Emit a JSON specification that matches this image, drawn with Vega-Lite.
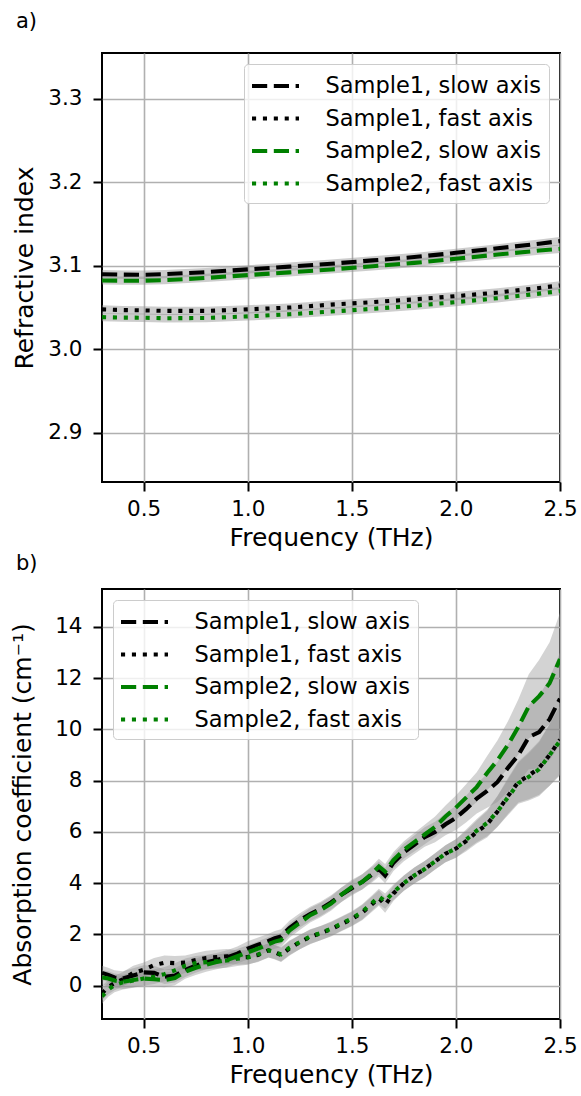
{
"$schema": "https://vega.github.io/schema/vega-lite/v6.json",
"background": "white",
"padding": {"left": 9, "top": 10, "right": 5, "bottom": 5},
"datasets": {
"top": [
{"s":"Sample1, slow axis","f":0.3,"y":3.0900,"lo":3.0850,"hi":3.0950},
{"s":"Sample1, slow axis","f":0.4,"y":3.0895,"lo":3.0845,"hi":3.0945},
{"s":"Sample1, slow axis","f":0.5,"y":3.0893,"lo":3.0843,"hi":3.0943},
{"s":"Sample1, slow axis","f":0.6,"y":3.0900,"lo":3.0850,"hi":3.0950},
{"s":"Sample1, slow axis","f":0.8,"y":3.0925,"lo":3.0875,"hi":3.0975},
{"s":"Sample1, slow axis","f":1.0,"y":3.0957,"lo":3.0907,"hi":3.1007},
{"s":"Sample1, slow axis","f":1.2,"y":3.0990,"lo":3.0940,"hi":3.1040},
{"s":"Sample1, slow axis","f":1.4,"y":3.1025,"lo":3.0975,"hi":3.1075},
{"s":"Sample1, slow axis","f":1.6,"y":3.1065,"lo":3.1015,"hi":3.1115},
{"s":"Sample1, slow axis","f":1.8,"y":3.1105,"lo":3.1055,"hi":3.1155},
{"s":"Sample1, slow axis","f":2.0,"y":3.1156,"lo":3.1106,"hi":3.1206},
{"s":"Sample1, slow axis","f":2.2,"y":3.1210,"lo":3.1160,"hi":3.1260},
{"s":"Sample1, slow axis","f":2.4,"y":3.1265,"lo":3.1215,"hi":3.1315},
{"s":"Sample1, slow axis","f":2.5,"y":3.1296,"lo":3.1246,"hi":3.1346},
{"s":"Sample1, fast axis","f":0.3,"y":3.0478,"lo":3.0428,"hi":3.0528},
{"s":"Sample1, fast axis","f":0.4,"y":3.0470,"lo":3.0420,"hi":3.0520},
{"s":"Sample1, fast axis","f":0.5,"y":3.0466,"lo":3.0416,"hi":3.0516},
{"s":"Sample1, fast axis","f":0.6,"y":3.0460,"lo":3.0410,"hi":3.0510},
{"s":"Sample1, fast axis","f":0.8,"y":3.0460,"lo":3.0410,"hi":3.0510},
{"s":"Sample1, fast axis","f":1.0,"y":3.0478,"lo":3.0428,"hi":3.0528},
{"s":"Sample1, fast axis","f":1.2,"y":3.0500,"lo":3.0450,"hi":3.0550},
{"s":"Sample1, fast axis","f":1.4,"y":3.0535,"lo":3.0485,"hi":3.0585},
{"s":"Sample1, fast axis","f":1.6,"y":3.0565,"lo":3.0515,"hi":3.0615},
{"s":"Sample1, fast axis","f":1.8,"y":3.0598,"lo":3.0548,"hi":3.0648},
{"s":"Sample1, fast axis","f":2.0,"y":3.0637,"lo":3.0587,"hi":3.0687},
{"s":"Sample1, fast axis","f":2.2,"y":3.0680,"lo":3.0630,"hi":3.0730},
{"s":"Sample1, fast axis","f":2.4,"y":3.0735,"lo":3.0685,"hi":3.0785},
{"s":"Sample1, fast axis","f":2.5,"y":3.0765,"lo":3.0715,"hi":3.0815},
{"s":"Sample2, slow axis","f":0.3,"y":3.0825,"lo":3.0775,"hi":3.0875},
{"s":"Sample2, slow axis","f":0.4,"y":3.0822,"lo":3.0772,"hi":3.0872},
{"s":"Sample2, slow axis","f":0.5,"y":3.0822,"lo":3.0772,"hi":3.0872},
{"s":"Sample2, slow axis","f":0.6,"y":3.0828,"lo":3.0778,"hi":3.0878},
{"s":"Sample2, slow axis","f":0.8,"y":3.0855,"lo":3.0805,"hi":3.0905},
{"s":"Sample2, slow axis","f":1.0,"y":3.0889,"lo":3.0839,"hi":3.0939},
{"s":"Sample2, slow axis","f":1.2,"y":3.0922,"lo":3.0872,"hi":3.0972},
{"s":"Sample2, slow axis","f":1.4,"y":3.0957,"lo":3.0907,"hi":3.1007},
{"s":"Sample2, slow axis","f":1.6,"y":3.0995,"lo":3.0945,"hi":3.1045},
{"s":"Sample2, slow axis","f":1.8,"y":3.1035,"lo":3.0985,"hi":3.1085},
{"s":"Sample2, slow axis","f":2.0,"y":3.1084,"lo":3.1034,"hi":3.1134},
{"s":"Sample2, slow axis","f":2.2,"y":3.1135,"lo":3.1085,"hi":3.1185},
{"s":"Sample2, slow axis","f":2.4,"y":3.1183,"lo":3.1133,"hi":3.1233},
{"s":"Sample2, slow axis","f":2.5,"y":3.1204,"lo":3.1154,"hi":3.1254},
{"s":"Sample2, fast axis","f":0.3,"y":3.0386,"lo":3.0336,"hi":3.0436},
{"s":"Sample2, fast axis","f":0.4,"y":3.0380,"lo":3.0330,"hi":3.0430},
{"s":"Sample2, fast axis","f":0.5,"y":3.0378,"lo":3.0328,"hi":3.0428},
{"s":"Sample2, fast axis","f":0.6,"y":3.0372,"lo":3.0322,"hi":3.0422},
{"s":"Sample2, fast axis","f":0.8,"y":3.0375,"lo":3.0325,"hi":3.0425},
{"s":"Sample2, fast axis","f":1.0,"y":3.0394,"lo":3.0344,"hi":3.0444},
{"s":"Sample2, fast axis","f":1.2,"y":3.0420,"lo":3.0370,"hi":3.0470},
{"s":"Sample2, fast axis","f":1.4,"y":3.0452,"lo":3.0402,"hi":3.0502},
{"s":"Sample2, fast axis","f":1.6,"y":3.0485,"lo":3.0435,"hi":3.0535},
{"s":"Sample2, fast axis","f":1.8,"y":3.0522,"lo":3.0472,"hi":3.0572},
{"s":"Sample2, fast axis","f":2.0,"y":3.0565,"lo":3.0515,"hi":3.0615},
{"s":"Sample2, fast axis","f":2.2,"y":3.0612,"lo":3.0562,"hi":3.0662},
{"s":"Sample2, fast axis","f":2.4,"y":3.0667,"lo":3.0617,"hi":3.0717},
{"s":"Sample2, fast axis","f":2.5,"y":3.0697,"lo":3.0647,"hi":3.0747}
],
"bottom": [
{"s":"Sample1, slow axis","f":0.30,"y":0.50,"lo":0.22,"hi":0.78},
{"s":"Sample1, slow axis","f":0.33,"y":0.42,"lo":0.14,"hi":0.70},
{"s":"Sample1, slow axis","f":0.36,"y":0.32,"lo":0.04,"hi":0.60},
{"s":"Sample1, slow axis","f":0.40,"y":0.28,"lo":0.00,"hi":0.56},
{"s":"Sample1, slow axis","f":0.45,"y":0.40,"lo":0.12,"hi":0.68},
{"s":"Sample1, slow axis","f":0.50,"y":0.52,"lo":0.24,"hi":0.80},
{"s":"Sample1, slow axis","f":0.55,"y":0.50,"lo":0.22,"hi":0.78},
{"s":"Sample1, slow axis","f":0.60,"y":0.35,"lo":0.07,"hi":0.63},
{"s":"Sample1, slow axis","f":0.65,"y":0.40,"lo":0.12,"hi":0.68},
{"s":"Sample1, slow axis","f":0.70,"y":0.62,"lo":0.34,"hi":0.90},
{"s":"Sample1, slow axis","f":0.75,"y":0.78,"lo":0.50,"hi":1.06},
{"s":"Sample1, slow axis","f":0.80,"y":0.92,"lo":0.64,"hi":1.20},
{"s":"Sample1, slow axis","f":0.85,"y":1.00,"lo":0.72,"hi":1.28},
{"s":"Sample1, slow axis","f":0.90,"y":1.10,"lo":0.82,"hi":1.38},
{"s":"Sample1, slow axis","f":0.95,"y":1.25,"lo":0.97,"hi":1.53},
{"s":"Sample1, slow axis","f":1.00,"y":1.45,"lo":1.17,"hi":1.73},
{"s":"Sample1, slow axis","f":1.05,"y":1.60,"lo":1.32,"hi":1.88},
{"s":"Sample1, slow axis","f":1.10,"y":1.75,"lo":1.47,"hi":2.03},
{"s":"Sample1, slow axis","f":1.13,"y":1.85,"lo":1.57,"hi":2.13},
{"s":"Sample1, slow axis","f":1.16,"y":1.92,"lo":1.64,"hi":2.20},
{"s":"Sample1, slow axis","f":1.20,"y":2.25,"lo":1.97,"hi":2.53},
{"s":"Sample1, slow axis","f":1.25,"y":2.55,"lo":2.27,"hi":2.83},
{"s":"Sample1, slow axis","f":1.30,"y":2.80,"lo":2.52,"hi":3.08},
{"s":"Sample1, slow axis","f":1.35,"y":3.00,"lo":2.72,"hi":3.28},
{"s":"Sample1, slow axis","f":1.40,"y":3.25,"lo":2.97,"hi":3.53},
{"s":"Sample1, slow axis","f":1.45,"y":3.55,"lo":3.27,"hi":3.83},
{"s":"Sample1, slow axis","f":1.50,"y":3.80,"lo":3.52,"hi":4.08},
{"s":"Sample1, slow axis","f":1.55,"y":4.05,"lo":3.75,"hi":4.35},
{"s":"Sample1, slow axis","f":1.60,"y":4.35,"lo":4.05,"hi":4.65},
{"s":"Sample1, slow axis","f":1.63,"y":4.55,"lo":4.25,"hi":4.85},
{"s":"Sample1, slow axis","f":1.66,"y":4.30,"lo":4.00,"hi":4.60},
{"s":"Sample1, slow axis","f":1.70,"y":4.80,"lo":4.48,"hi":5.12},
{"s":"Sample1, slow axis","f":1.75,"y":5.20,"lo":4.86,"hi":5.54},
{"s":"Sample1, slow axis","f":1.80,"y":5.50,"lo":5.14,"hi":5.86},
{"s":"Sample1, slow axis","f":1.85,"y":5.80,"lo":5.42,"hi":6.18},
{"s":"Sample1, slow axis","f":1.90,"y":6.00,"lo":5.60,"hi":6.40},
{"s":"Sample1, slow axis","f":1.95,"y":6.30,"lo":5.87,"hi":6.73},
{"s":"Sample1, slow axis","f":2.00,"y":6.55,"lo":6.08,"hi":7.02},
{"s":"Sample1, slow axis","f":2.05,"y":6.90,"lo":6.38,"hi":7.42},
{"s":"Sample1, slow axis","f":2.10,"y":7.30,"lo":6.72,"hi":7.88},
{"s":"Sample1, slow axis","f":2.15,"y":7.60,"lo":6.94,"hi":8.26},
{"s":"Sample1, slow axis","f":2.20,"y":7.95,"lo":7.17,"hi":8.73},
{"s":"Sample1, slow axis","f":2.25,"y":8.50,"lo":7.58,"hi":9.42},
{"s":"Sample1, slow axis","f":2.30,"y":9.00,"lo":7.92,"hi":10.08},
{"s":"Sample1, slow axis","f":2.35,"y":9.70,"lo":8.45,"hi":10.95},
{"s":"Sample1, slow axis","f":2.40,"y":9.90,"lo":8.48,"hi":11.32},
{"s":"Sample1, slow axis","f":2.45,"y":10.40,"lo":8.80,"hi":12.00},
{"s":"Sample1, slow axis","f":2.50,"y":11.20,"lo":9.40,"hi":13.00},
{"s":"Sample1, fast axis","f":0.30,"y":-0.30,"lo":-0.58,"hi":-0.02},
{"s":"Sample1, fast axis","f":0.33,"y":-0.05,"lo":-0.33,"hi":0.23},
{"s":"Sample1, fast axis","f":0.36,"y":0.10,"lo":-0.18,"hi":0.38},
{"s":"Sample1, fast axis","f":0.40,"y":0.25,"lo":-0.03,"hi":0.53},
{"s":"Sample1, fast axis","f":0.45,"y":0.50,"lo":0.22,"hi":0.78},
{"s":"Sample1, fast axis","f":0.50,"y":0.62,"lo":0.34,"hi":0.90},
{"s":"Sample1, fast axis","f":0.55,"y":0.80,"lo":0.52,"hi":1.08},
{"s":"Sample1, fast axis","f":0.60,"y":0.90,"lo":0.62,"hi":1.18},
{"s":"Sample1, fast axis","f":0.65,"y":0.88,"lo":0.60,"hi":1.16},
{"s":"Sample1, fast axis","f":0.70,"y":0.90,"lo":0.62,"hi":1.18},
{"s":"Sample1, fast axis","f":0.75,"y":1.00,"lo":0.72,"hi":1.28},
{"s":"Sample1, fast axis","f":0.80,"y":1.08,"lo":0.80,"hi":1.36},
{"s":"Sample1, fast axis","f":0.85,"y":1.12,"lo":0.84,"hi":1.40},
{"s":"Sample1, fast axis","f":0.90,"y":1.15,"lo":0.87,"hi":1.43},
{"s":"Sample1, fast axis","f":0.95,"y":1.10,"lo":0.82,"hi":1.38},
{"s":"Sample1, fast axis","f":1.00,"y":1.12,"lo":0.84,"hi":1.40},
{"s":"Sample1, fast axis","f":1.05,"y":1.20,"lo":0.92,"hi":1.48},
{"s":"Sample1, fast axis","f":1.10,"y":1.38,"lo":1.10,"hi":1.66},
{"s":"Sample1, fast axis","f":1.13,"y":1.30,"lo":1.02,"hi":1.58},
{"s":"Sample1, fast axis","f":1.16,"y":1.20,"lo":0.92,"hi":1.48},
{"s":"Sample1, fast axis","f":1.20,"y":1.45,"lo":1.17,"hi":1.73},
{"s":"Sample1, fast axis","f":1.25,"y":1.70,"lo":1.42,"hi":1.98},
{"s":"Sample1, fast axis","f":1.30,"y":1.90,"lo":1.62,"hi":2.18},
{"s":"Sample1, fast axis","f":1.35,"y":2.05,"lo":1.77,"hi":2.33},
{"s":"Sample1, fast axis","f":1.40,"y":2.20,"lo":1.92,"hi":2.48},
{"s":"Sample1, fast axis","f":1.45,"y":2.40,"lo":2.12,"hi":2.68},
{"s":"Sample1, fast axis","f":1.50,"y":2.60,"lo":2.32,"hi":2.88},
{"s":"Sample1, fast axis","f":1.55,"y":2.85,"lo":2.55,"hi":3.15},
{"s":"Sample1, fast axis","f":1.60,"y":3.20,"lo":2.90,"hi":3.50},
{"s":"Sample1, fast axis","f":1.63,"y":3.42,"lo":3.12,"hi":3.72},
{"s":"Sample1, fast axis","f":1.66,"y":3.15,"lo":2.85,"hi":3.45},
{"s":"Sample1, fast axis","f":1.70,"y":3.60,"lo":3.30,"hi":3.90},
{"s":"Sample1, fast axis","f":1.75,"y":4.00,"lo":3.70,"hi":4.30},
{"s":"Sample1, fast axis","f":1.80,"y":4.30,"lo":3.99,"hi":4.61},
{"s":"Sample1, fast axis","f":1.85,"y":4.55,"lo":4.23,"hi":4.87},
{"s":"Sample1, fast axis","f":1.90,"y":4.85,"lo":4.53,"hi":5.17},
{"s":"Sample1, fast axis","f":1.95,"y":5.15,"lo":4.82,"hi":5.48},
{"s":"Sample1, fast axis","f":2.00,"y":5.35,"lo":4.99,"hi":5.71},
{"s":"Sample1, fast axis","f":2.05,"y":5.65,"lo":5.25,"hi":6.05},
{"s":"Sample1, fast axis","f":2.10,"y":6.00,"lo":5.55,"hi":6.45},
{"s":"Sample1, fast axis","f":2.15,"y":6.30,"lo":5.78,"hi":6.82},
{"s":"Sample1, fast axis","f":2.20,"y":6.80,"lo":6.20,"hi":7.40},
{"s":"Sample1, fast axis","f":2.25,"y":7.40,"lo":6.70,"hi":8.10},
{"s":"Sample1, fast axis","f":2.30,"y":7.95,"lo":7.15,"hi":8.75},
{"s":"Sample1, fast axis","f":2.35,"y":8.20,"lo":7.28,"hi":9.12},
{"s":"Sample1, fast axis","f":2.40,"y":8.50,"lo":7.45,"hi":9.55},
{"s":"Sample1, fast axis","f":2.45,"y":9.00,"lo":7.80,"hi":10.20},
{"s":"Sample1, fast axis","f":2.50,"y":9.60,"lo":8.25,"hi":10.95},
{"s":"Sample2, slow axis","f":0.30,"y":0.32,"lo":0.04,"hi":0.60},
{"s":"Sample2, slow axis","f":0.33,"y":0.28,"lo":0.00,"hi":0.56},
{"s":"Sample2, slow axis","f":0.36,"y":0.20,"lo":-0.08,"hi":0.48},
{"s":"Sample2, slow axis","f":0.40,"y":0.15,"lo":-0.13,"hi":0.43},
{"s":"Sample2, slow axis","f":0.45,"y":0.22,"lo":-0.06,"hi":0.50},
{"s":"Sample2, slow axis","f":0.50,"y":0.28,"lo":0.00,"hi":0.56},
{"s":"Sample2, slow axis","f":0.55,"y":0.25,"lo":-0.03,"hi":0.53},
{"s":"Sample2, slow axis","f":0.60,"y":0.22,"lo":-0.06,"hi":0.50},
{"s":"Sample2, slow axis","f":0.65,"y":0.30,"lo":0.02,"hi":0.58},
{"s":"Sample2, slow axis","f":0.70,"y":0.55,"lo":0.27,"hi":0.83},
{"s":"Sample2, slow axis","f":0.75,"y":0.70,"lo":0.42,"hi":0.98},
{"s":"Sample2, slow axis","f":0.80,"y":0.82,"lo":0.54,"hi":1.10},
{"s":"Sample2, slow axis","f":0.85,"y":0.92,"lo":0.64,"hi":1.20},
{"s":"Sample2, slow axis","f":0.90,"y":1.00,"lo":0.72,"hi":1.28},
{"s":"Sample2, slow axis","f":0.95,"y":1.15,"lo":0.87,"hi":1.43},
{"s":"Sample2, slow axis","f":1.00,"y":1.30,"lo":1.02,"hi":1.58},
{"s":"Sample2, slow axis","f":1.05,"y":1.45,"lo":1.17,"hi":1.73},
{"s":"Sample2, slow axis","f":1.10,"y":1.62,"lo":1.34,"hi":1.90},
{"s":"Sample2, slow axis","f":1.13,"y":1.72,"lo":1.44,"hi":2.00},
{"s":"Sample2, slow axis","f":1.16,"y":1.78,"lo":1.50,"hi":2.06},
{"s":"Sample2, slow axis","f":1.20,"y":2.15,"lo":1.87,"hi":2.43},
{"s":"Sample2, slow axis","f":1.25,"y":2.45,"lo":2.17,"hi":2.73},
{"s":"Sample2, slow axis","f":1.30,"y":2.75,"lo":2.47,"hi":3.03},
{"s":"Sample2, slow axis","f":1.35,"y":2.95,"lo":2.67,"hi":3.23},
{"s":"Sample2, slow axis","f":1.40,"y":3.20,"lo":2.92,"hi":3.48},
{"s":"Sample2, slow axis","f":1.45,"y":3.55,"lo":3.27,"hi":3.83},
{"s":"Sample2, slow axis","f":1.50,"y":3.85,"lo":3.57,"hi":4.13},
{"s":"Sample2, slow axis","f":1.55,"y":4.05,"lo":3.75,"hi":4.35},
{"s":"Sample2, slow axis","f":1.60,"y":4.40,"lo":4.10,"hi":4.70},
{"s":"Sample2, slow axis","f":1.63,"y":4.65,"lo":4.35,"hi":4.95},
{"s":"Sample2, slow axis","f":1.66,"y":4.45,"lo":4.15,"hi":4.75},
{"s":"Sample2, slow axis","f":1.70,"y":4.90,"lo":4.58,"hi":5.22},
{"s":"Sample2, slow axis","f":1.75,"y":5.30,"lo":4.96,"hi":5.64},
{"s":"Sample2, slow axis","f":1.80,"y":5.60,"lo":5.24,"hi":5.96},
{"s":"Sample2, slow axis","f":1.85,"y":5.90,"lo":5.52,"hi":6.28},
{"s":"Sample2, slow axis","f":1.90,"y":6.20,"lo":5.80,"hi":6.60},
{"s":"Sample2, slow axis","f":1.95,"y":6.60,"lo":6.17,"hi":7.03},
{"s":"Sample2, slow axis","f":2.00,"y":6.95,"lo":6.48,"hi":7.42},
{"s":"Sample2, slow axis","f":2.05,"y":7.35,"lo":6.83,"hi":7.87},
{"s":"Sample2, slow axis","f":2.10,"y":7.75,"lo":7.17,"hi":8.33},
{"s":"Sample2, slow axis","f":2.15,"y":8.30,"lo":7.64,"hi":8.96},
{"s":"Sample2, slow axis","f":2.20,"y":8.80,"lo":8.02,"hi":9.58},
{"s":"Sample2, slow axis","f":2.25,"y":9.40,"lo":8.48,"hi":10.32},
{"s":"Sample2, slow axis","f":2.30,"y":10.10,"lo":9.02,"hi":11.18},
{"s":"Sample2, slow axis","f":2.35,"y":10.90,"lo":9.65,"hi":12.15},
{"s":"Sample2, slow axis","f":2.40,"y":11.30,"lo":9.88,"hi":12.72},
{"s":"Sample2, slow axis","f":2.45,"y":11.80,"lo":10.20,"hi":13.40},
{"s":"Sample2, slow axis","f":2.50,"y":12.75,"lo":10.95,"hi":14.55},
{"s":"Sample2, fast axis","f":0.30,"y":-0.42,"lo":-0.70,"hi":-0.14},
{"s":"Sample2, fast axis","f":0.33,"y":-0.15,"lo":-0.43,"hi":0.13},
{"s":"Sample2, fast axis","f":0.36,"y":0.02,"lo":-0.26,"hi":0.30},
{"s":"Sample2, fast axis","f":0.40,"y":0.13,"lo":-0.15,"hi":0.41},
{"s":"Sample2, fast axis","f":0.45,"y":0.20,"lo":-0.08,"hi":0.48},
{"s":"Sample2, fast axis","f":0.50,"y":0.28,"lo":0.00,"hi":0.56},
{"s":"Sample2, fast axis","f":0.55,"y":0.35,"lo":0.07,"hi":0.63},
{"s":"Sample2, fast axis","f":0.60,"y":0.45,"lo":0.17,"hi":0.73},
{"s":"Sample2, fast axis","f":0.65,"y":0.60,"lo":0.32,"hi":0.88},
{"s":"Sample2, fast axis","f":0.70,"y":0.78,"lo":0.50,"hi":1.06},
{"s":"Sample2, fast axis","f":0.75,"y":0.88,"lo":0.60,"hi":1.16},
{"s":"Sample2, fast axis","f":0.80,"y":0.92,"lo":0.64,"hi":1.20},
{"s":"Sample2, fast axis","f":0.85,"y":0.95,"lo":0.67,"hi":1.23},
{"s":"Sample2, fast axis","f":0.90,"y":0.98,"lo":0.70,"hi":1.26},
{"s":"Sample2, fast axis","f":0.95,"y":1.05,"lo":0.77,"hi":1.33},
{"s":"Sample2, fast axis","f":1.00,"y":1.10,"lo":0.82,"hi":1.38},
{"s":"Sample2, fast axis","f":1.05,"y":1.22,"lo":0.94,"hi":1.50},
{"s":"Sample2, fast axis","f":1.10,"y":1.38,"lo":1.10,"hi":1.66},
{"s":"Sample2, fast axis","f":1.13,"y":1.32,"lo":1.04,"hi":1.60},
{"s":"Sample2, fast axis","f":1.16,"y":1.22,"lo":0.94,"hi":1.50},
{"s":"Sample2, fast axis","f":1.20,"y":1.48,"lo":1.20,"hi":1.76},
{"s":"Sample2, fast axis","f":1.25,"y":1.70,"lo":1.42,"hi":1.98},
{"s":"Sample2, fast axis","f":1.30,"y":1.92,"lo":1.64,"hi":2.20},
{"s":"Sample2, fast axis","f":1.35,"y":2.05,"lo":1.77,"hi":2.33},
{"s":"Sample2, fast axis","f":1.40,"y":2.22,"lo":1.94,"hi":2.50},
{"s":"Sample2, fast axis","f":1.45,"y":2.42,"lo":2.14,"hi":2.70},
{"s":"Sample2, fast axis","f":1.50,"y":2.62,"lo":2.34,"hi":2.90},
{"s":"Sample2, fast axis","f":1.55,"y":2.88,"lo":2.58,"hi":3.18},
{"s":"Sample2, fast axis","f":1.60,"y":3.25,"lo":2.95,"hi":3.55},
{"s":"Sample2, fast axis","f":1.63,"y":3.48,"lo":3.18,"hi":3.78},
{"s":"Sample2, fast axis","f":1.66,"y":3.30,"lo":3.00,"hi":3.60},
{"s":"Sample2, fast axis","f":1.70,"y":3.65,"lo":3.35,"hi":3.95},
{"s":"Sample2, fast axis","f":1.75,"y":4.00,"lo":3.70,"hi":4.30},
{"s":"Sample2, fast axis","f":1.80,"y":4.30,"lo":3.99,"hi":4.61},
{"s":"Sample2, fast axis","f":1.85,"y":4.55,"lo":4.23,"hi":4.87},
{"s":"Sample2, fast axis","f":1.90,"y":4.85,"lo":4.53,"hi":5.17},
{"s":"Sample2, fast axis","f":1.95,"y":5.15,"lo":4.82,"hi":5.48},
{"s":"Sample2, fast axis","f":2.00,"y":5.35,"lo":4.99,"hi":5.71},
{"s":"Sample2, fast axis","f":2.05,"y":5.70,"lo":5.30,"hi":6.10},
{"s":"Sample2, fast axis","f":2.10,"y":6.05,"lo":5.60,"hi":6.50},
{"s":"Sample2, fast axis","f":2.15,"y":6.35,"lo":5.83,"hi":6.87},
{"s":"Sample2, fast axis","f":2.20,"y":6.80,"lo":6.20,"hi":7.40},
{"s":"Sample2, fast axis","f":2.25,"y":7.35,"lo":6.65,"hi":8.05},
{"s":"Sample2, fast axis","f":2.30,"y":7.90,"lo":7.10,"hi":8.70},
{"s":"Sample2, fast axis","f":2.35,"y":8.15,"lo":7.23,"hi":9.07},
{"s":"Sample2, fast axis","f":2.40,"y":8.45,"lo":7.40,"hi":9.50},
{"s":"Sample2, fast axis","f":2.45,"y":9.00,"lo":7.80,"hi":10.20},
{"s":"Sample2, fast axis","f":2.50,"y":9.55,"lo":8.20,"hi":10.90}
]
},
"vconcat": [
{
"title": {"text": "a)", "anchor": "start", "frame": "group", "dx": -86, "offset": 4, "baseline": "alphabetic"},
"width": 458, "height": 429,
"data": {"name": "top"},
"encoding": {
"x": {"field": "f", "type": "quantitative", "scale": {"domain": [0.3, 2.5], "nice": false, "zero": false},
"axis": {"values": [0.5, 1.0, 1.5, 2.0, 2.5], "format": ".1f", "title": "Frequency (THz)", "labelPadding": 7, "titlePadding": 6}}
},
"layer": [
{"mark": {"type": "area", "fill": "#909090", "fillOpacity": 0.45, "clip": true},
"encoding": {
"y": {"field": "lo", "type": "quantitative", "scale": {"domain": [2.841, 3.355], "nice": false, "zero": false},
"axis": {"values": [2.9, 3.0, 3.1, 3.2, 3.3], "format": ".1f", "title": "Refractive index", "titlePadding": 10, "labelPadding": 11}},
"y2": {"field": "hi"},
"detail": {"field": "s"}}},
{"mark": {"type": "line", "strokeWidth": 4.1, "clip": true},
"encoding": {
"y": {"field": "y", "type": "quantitative", "title": "Refractive index"},
"color": {"field": "s", "type": "nominal",
"scale": {"domain": ["Sample1, slow axis", "Sample1, fast axis", "Sample2, slow axis", "Sample2, fast axis"], "range": ["#000000", "#000000", "#008000", "#008000"]},
"legend": {"orient": "top-right", "offset": 11, "title": null}},
"strokeDash": {"field": "s", "type": "nominal",
"scale": {"domain": ["Sample1, slow axis", "Sample1, fast axis", "Sample2, slow axis", "Sample2, fast axis"], "range": [[15.2, 6.6], [4.1, 6.8], [15.2, 6.6], [4.1, 6.8]]},
"legend": {"orient": "top-right", "offset": 11, "title": null}}}}
]
},
{
"title": {"text": "b)", "anchor": "start", "frame": "group", "dx": -86, "offset": -2, "baseline": "alphabetic"},
"width": 458, "height": 430,
"data": {"name": "bottom"},
"encoding": {
"x": {"field": "f", "type": "quantitative", "scale": {"domain": [0.3, 2.5], "nice": false, "zero": false},
"axis": {"values": [0.5, 1.0, 1.5, 2.0, 2.5], "format": ".1f", "title": "Frequency (THz)", "labelPadding": 7, "titlePadding": 6}}
},
"layer": [
{"mark": {"type": "area", "fill": "#909090", "fillOpacity": 0.4, "clip": true},
"encoding": {
"y": {"field": "lo", "type": "quantitative", "scale": {"domain": [-1.3, 15.48], "nice": false, "zero": false},
"axis": {"values": [0, 2, 4, 6, 8, 10, 12, 14], "format": "d", "title": "Absorption coefficient (cm⁻¹)", "titlePadding": 19, "labelPadding": 11}},
"y2": {"field": "hi"},
"detail": {"field": "s"}}},
{"mark": {"type": "line", "strokeWidth": 4.1, "clip": true},
"encoding": {
"y": {"field": "y", "type": "quantitative", "title": "Absorption coefficient (cm⁻¹)"},
"color": {"field": "s", "type": "nominal",
"scale": {"domain": ["Sample1, slow axis", "Sample1, fast axis", "Sample2, slow axis", "Sample2, fast axis"], "range": ["#000000", "#000000", "#008000", "#008000"]},
"legend": {"orient": "top-left", "offset": 11, "title": null}},
"strokeDash": {"field": "s", "type": "nominal",
"scale": {"domain": ["Sample1, slow axis", "Sample1, fast axis", "Sample2, slow axis", "Sample2, fast axis"], "range": [[15.2, 6.6], [4.1, 6.8], [15.2, 6.6], [4.1, 6.8]]},
"legend": {"orient": "top-left", "offset": 11, "title": null}}}}
]
}
],
"spacing": 107,
"bounds": "flush",
"resolve": {"scale": {"x": "independent", "y": "independent", "color": "independent", "strokeDash": "independent"}, "legend": {"color": "independent", "strokeDash": "independent"}},
"config": {
"font": "DejaVu Sans",
"view": {"stroke": "#000000", "strokeWidth": 2},
"axis": {"labelFont": "DejaVu Sans", "labelFontSize": 21.5, "labelColor": "#000000", "titleFont": "DejaVu Sans", "titleFontSize": 25, "titleFontWeight": "normal", "titleColor": "#000000", "tickColor": "#000000", "tickWidth": 2, "tickSize": 9, "domain": false, "gridColor": "#b0b0b0", "gridWidth": 1.6, "labelFlush": false, "labelOverlap": false},
"legend": {"labelFont": "DejaVu Sans", "labelFontSize": 22.5, "labelColor": "#000000", "labelLimit": 0, "symbolType": "M-2,0H2", "symbolSize": 552, "symbolStrokeWidth": 4.1, "symbolOffset": 9.5, "labelOffset": 36, "padding": 8, "rowPadding": 6.5, "fillColor": "rgba(255,255,255,0.8)", "strokeColor": "#cccccc", "cornerRadius": 4},
"title": {"font": "DejaVu Sans", "fontSize": 21, "fontWeight": "normal", "color": "#000000"}
}
}
